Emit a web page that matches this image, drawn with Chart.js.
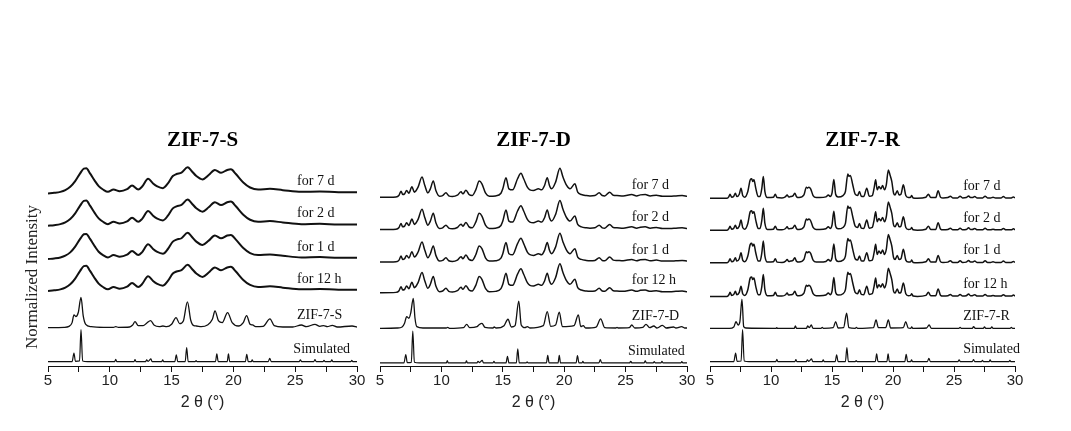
<!DOCTYPE html>
<html>
<head>
<meta charset="utf-8">
<script src="https://cdn.jsdelivr.net/npm/chart.js"></script>
<style>
  html, body { margin: 0; padding: 0; background: #fff; width: 1071px; height: 431px; overflow: hidden; }
  .panel { position: absolute; top: 0; height: 431px; }
</style>
</head>
<body>
<div class="panel" id="p1" style="left:0px;width:372px"><canvas id="c1"></canvas></div>
<div class="panel" id="p2" style="left:365px;width:338px"><canvas id="c2"></canvas></div>
<div class="panel" id="p3" style="left:700px;width:384px"><canvas id="c3"></canvas></div>
<script>
// ---------- data (2θ in degrees, normalized intensity) ----------
const panelTitles = ['ZIF-7-S', 'ZIF-7-D', 'ZIF-7-R'];
const traceLabels = ['Simulated', null, 'for 12 h', 'for 1 d', 'for 2 d', 'for 7 d'];
const xTicksMajor = [5, 10, 15, 20, 25, 30];

// vertical stacking offsets (bottom to top) for each panel
const offsetsS = [0.13, 1.14, 2.23, 3.18, 4.17, 5.13];
const offsetsD = [0.09, 1.12, 2.18, 3.09, 4.06, 5.02];
const offsetsR = [0.13, 1.12, 2.07, 3.07, 4.04, 4.99];

// simulated pattern (same in all panels)
const simulated = [[5,0],[6.95,0],[7.1,0.25],[7.22,0.01],[7.55,0.02],[7.67,0.95],[7.8,0.02],[8.2,0],[10.4,0],[10.48,0.07],[10.56,0],[11.96,0],[12.04,0.06],[12.12,0],[12.9,0],[12.98,0.05],[13.1,0.01],[13.33,0.08],[13.42,0],[14.2,0],[14.28,0.05],[14.36,0],[15.26,0],[15.38,0.2],[15.5,0],[16.1,0],[16.22,0.42],[16.34,0],[16.9,0],[16.98,0.03],[17.06,0],[18.55,0],[18.66,0.23],[18.77,0],[19.5,0],[19.6,0.23],[19.7,0],[20.97,0],[21.08,0.22],[21.2,0],[21.45,0],[21.52,0.05],[21.6,0],[22.82,0],[22.94,0.1],[23.06,0],[25.32,0],[25.42,0.05],[25.52,0],[26.5,0],[26.6,0.06],[26.7,0],[27.25,0],[27.33,0.04],[27.42,0],[27.88,0],[27.96,0.05],[28.05,0],[29.5,0],[29.58,0.04],[29.66,0],[30,0]];

// as-synthesized samples
const zif7S = [[5,0],[6.3,0.01],[6.7,0.04],[6.95,0.15],[7.1,0.38],[7.25,0.33],[7.45,0.45],[7.67,0.9],[7.85,0.35],[8.05,0.1],[8.5,0.03],[9.5,0.01],[10.3,0.01],[10.48,0.03],[10.7,0.01],[11.6,0.02],[11.85,0.08],[12.04,0.18],[12.3,0.06],[12.7,0.06],[13.0,0.14],[13.3,0.21],[13.6,0.07],[14.0,0.03],[14.3,0.05],[14.6,0.03],[15.0,0.1],[15.36,0.3],[15.65,0.12],[15.95,0.2],[16.28,0.77],[16.55,0.22],[16.8,0.06],[17.0,0.05],[17.4,0.03],[17.9,0.08],[18.3,0.25],[18.51,0.5],[18.8,0.2],[19.1,0.15],[19.53,0.45],[19.9,0.15],[20.4,0.05],[20.8,0.15],[21.07,0.36],[21.35,0.1],[21.55,0.08],[21.8,0.03],[22.4,0.04],[22.96,0.26],[23.3,0.06],[24.0,0.02],[24.8,0.02],[25.5,0.08],[25.9,0.03],[26.6,0.1],[27.0,0.04],[27.3,0.06],[27.6,0.03],[28.0,0.07],[28.4,0.02],[29.6,0.05],[30,0.02]];
const zif7D = [[5,0],[6.4,0.01],[6.8,0.04],[7.0,0.15],[7.17,0.35],[7.35,0.3],[7.5,0.45],[7.71,0.89],[7.85,0.3],[8.0,0.05],[8.5,0.01],[10.4,0.01],[10.51,0.03],[10.65,0],[11.8,0.02],[12.06,0.12],[12.3,0.02],[12.9,0.05],[13.05,0.1],[13.3,0.15],[13.55,0.03],[14.2,0.01],[14.3,0.04],[14.45,0.01],[15.1,0.08],[15.42,0.27],[15.7,0.04],[16.0,0.08],[16.3,0.81],[16.5,0.1],[16.8,0.02],[17.0,0.05],[17.2,0.01],[18.3,0.08],[18.62,0.5],[18.9,0.06],[19.3,0.1],[19.6,0.48],[19.85,0.05],[20.8,0.08],[21.15,0.4],[21.35,0.05],[21.55,0.08],[21.75,0.01],[22.6,0.04],[22.97,0.28],[23.3,0.02],[24.2,0.01],[24.3,0.03],[24.4,0.01],[25.3,0.02],[25.5,0.1],[25.75,0.01],[26.4,0.03],[26.66,0.12],[26.95,0.02],[27.3,0.07],[27.55,0.01],[28.0,0.09],[28.3,0.01],[28.9,0.04],[29.1,0.01],[29.57,0.05],[29.8,0.01],[30,0.01]];
const zif7R = [[5,0],[6.6,0],[6.95,0.04],[7.13,0.2],[7.3,0.1],[7.45,0.2],[7.62,0.87],[7.76,0.05],[7.95,0.01],[10.4,0],[10.47,0.02],[10.55,0],[11.9,0],[12.0,0.07],[12.1,0],[12.9,0],[13.0,0.07],[13.15,0.02],[13.3,0.1],[13.45,0],[14.1,0],[14.2,0.03],[14.3,0],[15.1,0.02],[15.3,0.2],[15.5,0.01],[15.95,0.02],[16.2,0.45],[16.38,0.02],[16.9,0],[17.0,0.03],[17.1,0],[18.4,0.02],[18.61,0.25],[18.8,0.02],[19.4,0.02],[19.62,0.25],[19.8,0.01],[20.85,0.02],[21.04,0.2],[21.25,0.01],[21.45,0],[21.53,0.04],[21.62,0],[22.75,0.01],[22.96,0.1],[23.15,0],[25.4,0],[25.5,0.03],[25.6,0],[26.5,0],[26.6,0.05],[26.75,0],[27.4,0],[27.5,0.04],[27.6,0],[28.0,0],[28.1,0.04],[28.2,0],[29.6,0],[29.7,0.03],[29.8,0],[30,0]];

// patterns after treatment (12 h, 1 d, 2 d, 7 d look alike within a panel)
const agedS = [[5,0],[5.5,0.02],[6.0,0.05],[6.4,0.1],[6.8,0.2],[7.2,0.37],[7.6,0.6],[7.9,0.74],[8.1,0.75],[8.4,0.6],[8.8,0.37],[9.1,0.22],[9.45,0.12],[9.85,0.05],[10.3,0.12],[10.8,0.07],[11.4,0.13],[11.8,0.24],[12.3,0.12],[12.6,0.2],[13.1,0.44],[13.5,0.3],[13.8,0.22],[14.3,0.16],[14.7,0.3],[15.1,0.52],[15.4,0.58],[15.8,0.62],[16.3,0.78],[16.6,0.68],[17.0,0.52],[17.5,0.42],[18.0,0.55],[18.5,0.7],[19.0,0.62],[19.5,0.7],[19.8,0.72],[20.2,0.58],[20.8,0.33],[21.35,0.18],[22.0,0.12],[22.96,0.14],[24.0,0.1],[25.5,0.05],[27.0,0.06],[28.5,0.04],[30,0.04]];
const agedD = [[5,0],[6.3,0.01],[6.55,0.06],[6.71,0.18],[6.85,0.08],[7.0,0.1],[7.17,0.2],[7.35,0.12],[7.6,0.31],[7.8,0.15],[8.1,0.3],[8.42,0.6],[8.65,0.35],[8.9,0.13],[9.1,0.25],[9.34,0.48],[9.55,0.2],[9.85,0.03],[10.1,0.05],[10.37,0.13],[10.6,0.04],[10.9,0.02],[11.3,0.06],[11.6,0.16],[11.75,0.1],[12.0,0.21],[12.25,0.08],[12.5,0.05],[12.8,0.22],[13.08,0.48],[13.3,0.4],[13.6,0.12],[13.9,0.03],[14.4,0.04],[14.85,0.12],[15.0,0.25],[15.26,0.58],[15.5,0.25],[15.8,0.22],[16.2,0.55],[16.48,0.71],[16.7,0.55],[17.0,0.3],[17.21,0.22],[17.5,0.2],[17.9,0.25],[18.16,0.22],[18.4,0.35],[18.62,0.58],[18.8,0.35],[18.97,0.25],[19.3,0.45],[19.65,0.86],[19.9,0.6],[20.2,0.35],[20.47,0.25],[20.87,0.4],[21.1,0.15],[21.4,0.08],[21.8,0.05],[22.1,0.04],[22.5,0.05],[22.85,0.13],[23.1,0.05],[23.3,0.04],[23.7,0.15],[24.0,0.06],[24.3,0.05],[24.8,0.04],[25.5,0.08],[25.9,0.04],[26.2,0.07],[26.6,0.08],[27.0,0.04],[27.5,0.06],[28.0,0.03],[28.6,0.03],[29.1,0.04],[29.6,0.05],[30,0.03]];
const agedR = [[5,0],[6.4,0],[6.55,0.05],[6.64,0.12],[6.78,0.03],[6.95,0.06],[7.08,0.15],[7.2,0.05],[7.4,0.12],[7.54,0.3],[7.68,0.08],[7.85,0.03],[8.1,0.2],[8.3,0.55],[8.42,0.58],[8.5,0.5],[8.6,0.55],[8.75,0.3],[8.95,0.05],[9.1,0.05],[9.25,0.3],[9.37,0.65],[9.5,0.2],[9.7,0.02],[10.2,0.03],[10.35,0.12],[10.5,0.02],[10.9,0.01],[11.2,0.05],[11.32,0.1],[11.45,0.04],[11.6,0.05],[11.8,0.07],[11.95,0.15],[12.1,0.04],[12.3,0.02],[12.7,0.1],[12.9,0.33],[13.0,0.3],[13.1,0.33],[13.25,0.28],[13.45,0.08],[13.7,0.02],[14.0,0.02],[14.5,0.04],[14.7,0.1],[14.85,0.05],[15.0,0.15],[15.15,0.56],[15.3,0.12],[15.5,0.04],[15.9,0.08],[16.1,0.2],[16.3,0.72],[16.4,0.65],[16.5,0.68],[16.7,0.4],[16.9,0.12],[17.1,0.08],[17.25,0.2],[17.4,0.06],[17.6,0.05],[17.85,0.3],[18.05,0.06],[18.3,0.08],[18.45,0.3],[18.58,0.55],[18.7,0.25],[18.85,0.35],[19.0,0.28],[19.15,0.38],[19.3,0.25],[19.45,0.4],[19.62,0.84],[19.75,0.7],[19.9,0.5],[20.05,0.15],[20.17,0.1],[20.35,0.22],[20.5,0.1],[20.65,0.12],[20.85,0.4],[21.05,0.08],[21.26,0.02],[21.45,0.03],[21.53,0.08],[21.65,0.01],[22.0,0],[22.7,0.03],[22.9,0.12],[23.1,0.02],[23.5,0.02],[23.7,0.22],[23.9,0.03],[24.1,0.01],[24.5,0.02],[24.7,0.06],[24.9,0.01],[25.3,0.01],[25.5,0.06],[25.7,0.01],[26.0,0.02],[26.2,0.07],[26.35,0.02],[26.5,0.02],[26.7,0.05],[26.9,0.01],[27.35,0.01],[27.55,0.06],[27.75,0.01],[28.0,0.01],[28.2,0.03],[28.4,0.01],[28.85,0.01],[29.05,0.05],[29.25,0.01],[29.7,0.01],[29.87,0.04],[30,0.01]];

// ---------- chart construction ----------
const SERIF = '"Liberation Serif", "Times New Roman", serif';
const SANS = '"Liberation Sans", Arial, sans-serif';

const labelPlugin = {
  id: 'traceLabels',
  afterDatasetsDraw(chart, args, opts) {
    const {ctx, scales: {x, y}} = chart;
    ctx.save();
    ctx.fillStyle = '#111';
    ctx.font = '14px ' + SERIF;
    ctx.textAlign = 'left';
    ctx.textBaseline = 'middle';
    chart.data.datasets.forEach((ds, i) => {
      const xv = i === 0 ? opts.xSim : opts.x;
      ctx.fillText(ds.label, x.getPixelForValue(xv), y.getPixelForValue(ds.offset) - 12);
    });
    if (opts.yTitle) {
      ctx.translate(opts.yTitle.px, opts.yTitle.py);
      ctx.rotate(-Math.PI / 2);
      ctx.textAlign = 'center';
      ctx.font = '17px ' + SERIF;
      ctx.fillStyle = '#222';
      ctx.fillText(opts.yTitle.text, 0, 0);
    }
    ctx.restore();
  }
};

function makeChart(id, title, sample, aged, offsets, pad, lab) {
  const series = [simulated, sample, aged, aged, aged, aged];
  const datasets = series.map((pts, i) => ({
    label: traceLabels[i] || title,
    offset: offsets[i],
    data: pts.map(p => ({x: p[0], y: p[1] + offsets[i]})),
    borderColor: '#111',
    borderWidth: i === 0 ? 1.2 : (i === 1 ? 1.3 : lab.agedWidth),
    pointRadius: 0,
    cubicInterpolationMode: 'monotone',
    fill: false
  }));
  return new Chart(document.getElementById(id), {
    type: 'line',
    data: {datasets},
    options: {
      animation: false,
      responsive: true,
      maintainAspectRatio: false,
      layout: {padding: {left: pad.left, right: pad.right, top: 0, bottom: 0}},
      plugins: {
        legend: {display: false},
        tooltip: {enabled: false},
        title: {display: true, text: title, color: '#000',
                font: {family: SERIF, size: 21, weight: 'bold'},
                padding: {top: 128, bottom: 1}},
        traceLabels: lab
      },
      scales: {
        x: {
          type: 'linear', min: 5, max: 30,
          ticks: {stepSize: 2.5, autoSkip: false, maxRotation: 0, padding: 0,
                  color: '#222', font: {family: SANS, size: 15},
                  callback: v => xTicksMajor.includes(v) ? String(v) : ''},
          grid: {drawOnChartArea: false, drawTicks: true, tickLength: 6, tickColor: '#111', tickWidth: 1},
          border: {display: true, color: '#111', width: 1},
          title: {display: true, text: '2 θ (°)', color: '#222',
                  font: {family: SANS, size: 16}, padding: {top: 0, bottom: 19}},
          afterFit: s => { s.height = 65; }
        },
        y: {display: false, min: 0, max: 6.3}
      }
    },
    plugins: [labelPlugin]
  });
}

makeChart('c1', panelTitles[0], zif7S, agedS, offsetsS, {left: 48, right: 15},
  {x: 25.15, xSim: 24.85, agedWidth: 2, yTitle: {text: 'Normalized Intensity', px: 33, py: 277}});
makeChart('c2', panelTitles[1], zif7D, agedD, offsetsD, {left: 15, right: 16},
  {x: 25.5, xSim: 25.2, agedWidth: 1.5});
makeChart('c3', panelTitles[2], zif7R, agedR, offsetsR, {left: 10, right: 69},
  {x: 25.75, xSim: 25.75, agedWidth: 1.5});
</script>
</body>
</html>
